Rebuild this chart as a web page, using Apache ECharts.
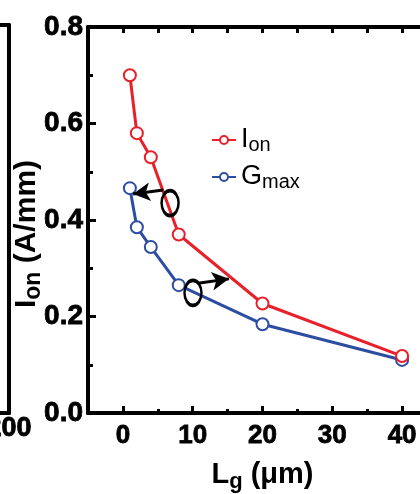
<!DOCTYPE html>
<html>
<head>
<meta charset="utf-8">
<script src="https://cdn.jsdelivr.net/npm/echarts@6/dist/echarts.min.js"></script>
<style>
  html, body { margin: 0; padding: 0; background: #fff; }
  #chart { width: 420px; height: 494px; }
</style>
</head>
<body>
<div id="chart"></div>
<script>
// gate length (um)
const lg = [1, 2, 4, 8, 20, 40];
// on-current (A/mm)
const ion = [0.70, 0.58, 0.53, 0.37, 0.227, 0.118];
// peak transconductance, drawn on the left scale (right axis is cut off)
const gmax = [0.466, 0.385, 0.344, 0.265, 0.184, 0.110];

const xLabels = [0, 10, 20, 30, 40];
const xMinor = [5, 15, 25, 35];
const xTopTicks = [0, 5, 10, 15, 20, 25, 30, 35, 40];

// ellipse + arrow callouts, in data units
const ovals = [[6.76, 0.435], [10.04, 0.249]];
const arrows = [
  [[5.76, 0.462], [1.47, 0.454]],
  [[10.76, 0.269], [15.19, 0.278]]
];

const RED = "#E8202A";
const BLUE = "#2C4DA2";
const FONT = "Liberation Sans, Arial, sans-serif";

const chart = echarts.init(document.getElementById("chart"));

const lineAx = { show: true, onZero: false, lineStyle: { color: "#000", width: 4 } };
// heavy digits like the original
const heavy = { fontFamily: FONT, fontWeight: "bold", color: "#000", textBorderColor: "#000", textBorderWidth: 0.8 };

const option = {
  animation: false,
  grid: [
    { left: 88, right: -17, top: 27, bottom: 81, outerBoundsMode: "none", containLabel: false },
    { left: -300, right: 411, top: 25, bottom: 81, outerBoundsMode: "none", containLabel: false }
  ],
  legend: {
    left: 206,
    top: 120,
    orient: "vertical",
    itemWidth: 24,
    itemHeight: 10,
    itemGap: 7,
    data: ["Ion", "Gmax"],
    formatter: (name) => name === "Ion" ? "{a|I}{b|on}" : "{a|G}{b|max}",
    textStyle: {
      rich: {
        a: { fontFamily: FONT, fontSize: 27, color: "#000", lineHeight: 26 },
        b: { fontFamily: FONT, fontSize: 20, color: "#000", padding: [10, 0, 0, 0], lineHeight: 26 }
      }
    }
  },
  xAxis: [
    {
      type: "value", gridIndex: 0, position: "bottom",
      min: -5, max: 45,
      axisLine: lineAx,
      splitLine: { show: false },
      axisTick: { inside: true, length: 7, customValues: xLabels, lineStyle: { width: 3, color: "#000" } },
      axisLabel: Object.assign({ customValues: xLabels, margin: 10, fontSize: 26 }, heavy),
      name: "{a|L}{b|g}{a| (\u03bcm)}",
      nameLocation: "middle",
      nameGap: 46,
      nameTextStyle: {
        rich: {
          a: { fontFamily: FONT, fontSize: 29, fontWeight: "bold", color: "#000", lineHeight: 32 },
          b: { fontFamily: FONT, fontSize: 22, fontWeight: "bold", color: "#000", padding: [14, 0, 0, 0], lineHeight: 32 }
        }
      }
    },
    {
      type: "value", gridIndex: 0, position: "bottom",
      min: -5, max: 45,
      axisLine: { show: false },
      splitLine: { show: false },
      axisTick: { inside: true, length: 4, customValues: xMinor, lineStyle: { width: 3, color: "#000" } },
      axisLabel: { show: false }
    },
    {
      type: "value", gridIndex: 0, position: "top",
      min: -5, max: 45,
      axisLine: lineAx,
      splitLine: { show: false },
      axisTick: { inside: true, length: 6, customValues: xTopTicks, lineStyle: { width: 3, color: "#000" } },
      axisLabel: { show: false }
    },
    {
      type: "value", gridIndex: 1, position: "bottom",
      min: 0, max: 200,
      axisLine: lineAx,
      splitLine: { show: false },
      axisTick: { show: false },
      axisLabel: Object.assign({ customValues: [200], margin: 2, fontSize: 27 }, heavy)
    },
    {
      type: "value", gridIndex: 1, position: "top",
      min: 0, max: 200,
      axisLine: lineAx,
      splitLine: { show: false },
      axisTick: { show: false },
      axisLabel: { show: false }
    }
  ],
  yAxis: [
    {
      type: "value", gridIndex: 0, position: "left",
      min: 0, max: 0.8, interval: 0.2,
      axisLine: lineAx,
      splitLine: { show: false },
      axisTick: { inside: true, length: 8, lineStyle: { width: 3, color: "#000" } },
      minorTick: { show: true, splitNumber: 2, length: 5, lineStyle: { width: 3, color: "#000" } },
      axisLabel: Object.assign({ margin: 5, formatter: (v) => v.toFixed(1), fontSize: 28 }, heavy),
      name: "{a|I}{b|on}{a| (A/mm)}",
      nameLocation: "middle",
      nameGap: 44,
      nameMoveOverlap: false,
      nameTextStyle: {
        padding: [0, 28, 0, 0],
        rich: {
          a: { fontFamily: FONT, fontSize: 30, fontWeight: "bold", color: "#000", lineHeight: 34 },
          b: { fontFamily: FONT, fontSize: 23, fontWeight: "bold", color: "#000", padding: [14, 0, 0, 0], lineHeight: 34 }
        }
      }
    },
    {
      type: "value", gridIndex: 1, position: "right",
      min: 0, max: 0.8,
      axisLine: lineAx,
      splitLine: { show: false },
      axisTick: { show: false },
      axisLabel: { show: false }
    }
  ],
  series: [
    {
      name: "Ion",
      type: "line",
      xAxisIndex: 0, yAxisIndex: 0,
      data: lg.map((x, i) => [x, ion[i]]),
      symbol: "emptyCircle",
      symbolSize: 12,
      color: RED,
      lineStyle: { width: 3, color: RED },
      itemStyle: { color: RED, borderWidth: 3 },
      z: 3
    },
    {
      name: "Gmax",
      type: "line",
      xAxisIndex: 0, yAxisIndex: 0,
      data: lg.map((x, i) => [x, gmax[i]]),
      symbol: "emptyCircle",
      symbolSize: 12,
      color: BLUE,
      lineStyle: { width: 3, color: BLUE },
      itemStyle: { color: BLUE, borderWidth: 3 },
      z: 2
    },
    {
      name: "callouts",
      type: "line",
      xAxisIndex: 0, yAxisIndex: 0,
      data: [],
      silent: true,
      z: 5,
      markPoint: {
        symbol: "circle",
        symbolSize: [17, 25],
        itemStyle: { color: "transparent", borderColor: "#000", borderWidth: 3 },
        label: { show: false },
        data: ovals.map((c) => ({ coord: c }))
      },
      markLine: {
        symbol: ["none", "arrow"],
        symbolSize: [14, 17],
        lineStyle: { color: "#000", width: 3, type: "solid" },
        label: { show: false },
        data: arrows.map((a) => [{ coord: a[0] }, { coord: a[1] }])
      }
    }
  ]
};

chart.setOption(option);
</script>
</body>
</html>
